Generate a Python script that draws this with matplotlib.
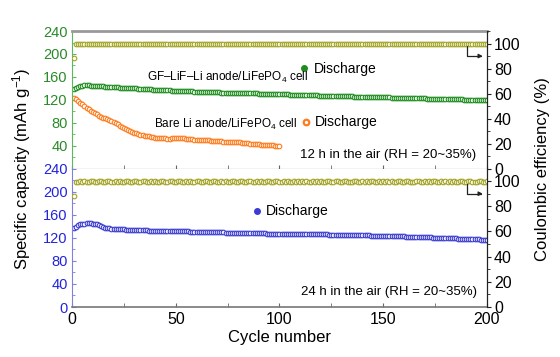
import numpy as np
import matplotlib
matplotlib.use('Agg')
from matplotlib import pyplot as plt
from matplotlib.ticker import MultipleLocator

plt.rcParams['font.family'] = ['Liberation Sans', 'DejaVu Sans']
plt.rcParams['mathtext.fontset'] = 'custom'
plt.rcParams['mathtext.rm'] = 'Liberation Sans'
plt.rcParams['mathtext.it'] = 'Liberation Sans:italic'
plt.rcParams['mathtext.default'] = 'regular'

cycles = np.arange(1, 201)
cycles_bare = np.arange(1, 101)

# 12 h in air: coulombic efficiency (%), GF-LiF-Li and bare Li discharge capacity
ce_12h = [88.5, 99.4, 99.7, 99.6, 99.8, 99.5, 99.7, 99.6, 99.9, 99.5, 99.7, 99.6, 99.8, 99.4, 99.7, 99.6, 99.8, 99.5, 99.7, 99.9,
          99.6, 99.5, 99.8, 99.7, 99.6, 99.4, 99.7, 99.8, 99.6, 99.5, 99.7, 99.6, 99.9, 99.5, 99.7, 99.6, 99.8, 99.4, 99.7, 99.6,
          99.8, 99.5, 99.7, 99.9, 99.6, 99.5, 99.8, 99.7, 99.6, 99.4, 99.7, 99.8, 99.6, 99.5, 99.7, 99.6, 99.9, 99.5, 99.7, 99.6,
          99.8, 99.4, 99.7, 99.6, 99.8, 99.5, 99.7, 99.9, 99.6, 99.5, 99.8, 99.7, 99.6, 99.4, 99.7, 99.8, 99.6, 99.5, 99.7, 99.6,
          99.9, 99.5, 99.7, 99.6, 99.8, 99.4, 99.7, 99.6, 99.8, 99.5, 99.7, 99.9, 99.6, 99.5, 99.8, 99.7, 99.6, 99.4, 99.7, 99.8,
          99.5, 99.7, 99.6, 99.8, 99.4, 99.7, 99.6, 99.9, 99.5, 99.6, 99.8, 99.7, 99.5, 99.6, 99.4, 99.7, 99.8, 99.6, 99.5, 99.7,
          99.6, 99.8, 99.5, 99.7, 99.9, 99.6, 99.4, 99.7, 99.6, 99.8, 99.5, 99.7, 99.6, 99.8, 99.4, 99.6, 99.7, 99.9, 99.5, 99.6,
          99.8, 99.7, 99.5, 99.6, 99.4, 99.7, 99.8, 99.6, 99.5, 99.7, 99.6, 99.8, 99.5, 99.7, 99.9, 99.6, 99.4, 99.7, 99.6, 99.8,
          99.5, 99.7, 99.6, 99.8, 99.4, 99.6, 99.7, 99.9, 99.5, 99.6, 99.8, 99.7, 99.5, 99.6, 99.4, 99.7, 99.8, 99.6, 99.5, 99.7,
          99.6, 99.8, 99.5, 99.7, 99.9, 99.6, 99.4, 99.7, 99.6, 99.8, 99.5, 99.7, 99.6, 99.8, 99.4, 99.6, 99.7, 99.9, 99.5, 99.6]
gf_12h = [138.5, 141.0, 143.0, 144.0, 144.6, 145.0, 145.0, 145.1, 144.8, 144.6, 144.2, 144.1, 143.9, 143.5, 143.2, 143.0, 142.8, 142.7, 142.5, 142.2,
          141.9, 141.7, 141.4, 141.2, 141.0, 140.8, 140.6, 140.3, 140.1, 139.9, 139.7, 139.3, 139.0, 138.9, 138.8, 138.5, 138.2, 138.1, 137.9, 137.6,
          137.4, 137.3, 137.2, 136.9, 136.6, 136.5, 136.3, 136.0, 135.8, 135.7, 135.6, 135.4, 135.2, 135.1, 135.0, 134.8, 134.6, 134.5, 134.4, 134.2,
          134.1, 134.0, 133.9, 133.7, 133.5, 133.5, 133.4, 133.2, 133.0, 133.0, 132.9, 132.7, 132.5, 132.4, 132.3, 132.3, 132.2, 132.0, 131.9, 131.9,
          131.8, 131.6, 131.5, 131.5, 131.4, 131.2, 131.1, 131.0, 131.0, 130.8, 130.7, 130.7, 130.6, 130.4, 130.2, 130.2, 130.1, 129.9, 129.8, 129.8,
          129.7, 129.5, 129.3, 129.3, 129.2, 129.0, 128.8, 128.8, 128.7, 128.5, 128.3, 128.3, 128.2, 128.0, 127.9, 127.9, 127.8, 127.6, 127.4, 127.4,
          127.3, 127.1, 127.0, 126.9, 126.8, 126.7, 126.6, 126.5, 126.4, 126.4, 126.3, 126.1, 126.0, 126.0, 125.9, 125.7, 125.6, 125.6, 125.5, 125.3,
          125.2, 125.2, 125.1, 124.9, 124.8, 124.7, 124.6, 124.5, 124.4, 124.3, 124.2, 124.1, 124.0, 123.9, 123.8, 123.7, 123.6, 123.5, 123.4, 123.3,
          123.2, 123.1, 123.0, 122.9, 122.8, 122.7, 122.6, 122.5, 122.4, 122.3, 122.2, 122.1, 122.0, 121.9, 121.8, 121.7, 121.6, 121.5, 121.4, 121.3,
          121.2, 121.1, 121.0, 120.9, 120.8, 120.7, 120.6, 120.5, 120.4, 120.3, 120.2, 120.1, 120.0, 119.8, 119.7, 119.6, 119.5, 119.3, 119.2, 119.0]
bare_12h = [122.5, 120.5, 118.0, 115.0, 112.0, 109.0, 106.0, 103.5, 101.0, 99.0, 97.0, 94.5, 92.0, 90.0, 88.0, 87.5, 86.0, 84.5, 83.0, 81.0,
            79.0, 77.0, 75.0, 73.0, 71.0, 69.0, 67.0, 65.5, 64.0, 62.5, 61.5, 60.0, 59.0, 58.0, 57.5, 56.5, 56.0, 55.0, 54.5, 54.0,
            53.5, 53.0, 53.0, 52.5, 52.5, 52.0, 52.0, 52.5, 53.0, 53.5, 53.5, 53.5, 53.0, 52.5, 52.0, 51.5, 51.0, 51.0, 50.5, 50.5,
            50.0, 50.0, 49.5, 49.5, 49.0, 49.0, 48.5, 48.5, 48.5, 48.0, 48.0, 47.5, 47.0, 47.0, 46.5, 46.5, 46.5, 46.5, 46.0, 46.0,
            45.5, 45.0, 44.5, 44.5, 44.0, 43.5, 43.0, 42.5, 42.0, 42.0, 41.5, 41.0, 41.0, 40.5, 40.5, 40.5, 40.5, 40.0, 40.0, 40.0]

# 24 h in air
ce_24h = [88.0, 99.5, 99.6, 99.8, 99.4, 99.7, 99.6, 99.5, 99.8, 99.7, 99.6, 99.4, 99.7, 99.8, 99.5, 99.6, 99.7, 99.9, 99.5, 99.6,
          99.8, 99.4, 99.7, 99.6, 99.5, 99.8, 99.7, 99.6, 99.4, 99.7, 99.8, 99.5, 99.6, 99.7, 99.9, 99.5, 99.6, 99.8, 99.4, 99.7,
          99.6, 99.5, 99.8, 99.7, 99.6, 99.4, 99.7, 99.8, 99.5, 99.6, 99.7, 99.9, 99.5, 99.6, 99.8, 99.4, 99.7, 99.6, 99.5, 99.8,
          99.7, 99.6, 99.4, 99.7, 99.8, 99.5, 99.6, 99.7, 99.9, 99.5, 99.6, 99.8, 99.4, 99.7, 99.6, 99.5, 99.8, 99.7, 99.6, 99.4,
          99.7, 99.8, 99.5, 99.6, 99.7, 99.9, 99.5, 99.6, 99.8, 99.4, 99.7, 99.6, 99.5, 99.8, 99.7, 99.6, 99.4, 99.7, 99.8, 99.5,
          99.6, 99.7, 99.5, 99.8, 99.6, 99.4, 99.7, 99.6, 99.9, 99.5, 99.7, 99.6, 99.8, 99.5, 99.4, 99.7, 99.6, 99.8, 99.5, 99.7,
          99.6, 99.5, 99.8, 99.7, 99.4, 99.6, 99.7, 99.9, 99.5, 99.6, 99.8, 99.7, 99.5, 99.4, 99.6, 99.7, 99.8, 99.6, 99.5, 99.7,
          99.6, 99.8, 99.5, 99.7, 99.9, 99.6, 99.4, 99.7, 99.6, 99.8, 99.5, 99.7, 99.6, 99.8, 99.4, 99.6, 99.7, 99.9, 99.5, 99.6,
          99.8, 99.7, 99.5, 99.6, 99.4, 99.7, 99.8, 99.6, 99.5, 99.7, 99.6, 99.8, 99.5, 99.7, 99.9, 99.6, 99.4, 99.7, 99.6, 99.8,
          99.5, 99.7, 99.6, 99.8, 99.4, 99.6, 99.7, 99.9, 99.5, 99.6, 99.8, 99.7, 99.5, 99.6, 99.4, 99.7, 99.8, 99.6, 99.5, 99.7]
gf_24h = [137.0, 139.5, 141.5, 143.0, 144.0, 144.5, 145.0, 145.0, 145.0, 144.5, 144.0, 143.0, 141.5, 140.0, 138.5, 137.5, 137.0, 136.5, 136.0, 135.8,
          135.5, 135.2, 135.0, 134.8, 134.5, 134.2, 134.0, 133.9, 133.8, 133.6, 133.5, 133.2, 133.0, 132.9, 132.8, 132.6, 132.5, 132.4, 132.3, 132.1,
          132.0, 132.0, 132.0, 131.9, 131.8, 131.7, 131.6, 131.5, 131.5, 131.4, 131.3, 131.2, 131.2, 131.1, 131.0, 130.9, 130.8, 130.7, 130.6, 130.5,
          130.4, 130.3, 130.2, 130.1, 130.0, 129.9, 129.8, 129.7, 129.6, 129.5, 129.4, 129.3, 129.2, 129.1, 129.0, 128.9, 128.8, 128.7, 128.6, 128.5,
          128.4, 128.3, 128.2, 128.1, 128.0, 127.9, 127.8, 127.7, 127.6, 127.5, 127.5, 127.4, 127.4, 127.3, 127.3, 127.2, 127.2, 127.1, 127.1, 127.0,
          127.0, 126.9, 126.9, 126.8, 126.8, 126.7, 126.7, 126.6, 126.6, 126.5, 126.5, 126.4, 126.4, 126.3, 126.3, 126.2, 126.2, 126.1, 126.0, 126.0,
          125.9, 125.8, 125.7, 125.6, 125.6, 125.5, 125.4, 125.3, 125.3, 125.1, 125.1, 125.0, 125.0, 124.8, 124.8, 124.6, 124.6, 124.4, 124.4, 124.2,
          124.2, 124.0, 124.0, 123.8, 123.8, 123.6, 123.6, 123.4, 123.4, 123.2, 123.2, 123.0, 123.0, 122.8, 122.8, 122.6, 122.5, 122.4, 122.3, 122.2,
          122.0, 121.9, 121.8, 121.6, 121.5, 121.4, 121.3, 121.1, 121.0, 120.9, 120.8, 120.6, 120.5, 120.3, 120.2, 120.1, 120.0, 119.8, 119.7, 119.5,
          119.4, 119.2, 119.1, 118.9, 118.8, 118.6, 118.5, 118.3, 118.2, 118.0, 117.9, 117.7, 117.5, 117.4, 117.2, 117.0, 116.8, 116.6, 116.4, 116.2]

c_ce = '#a3a324'
c_green = '#1f8c1f'
c_orange = '#ff7b1c'
c_blue = '#3c3cd2'
mk = dict(marker='o', ls='none', ms=3.3, mew=0.8, mfc='white')

fig = plt.figure(figsize=(5.6, 3.57), dpi=100)
ax1 = fig.add_axes([0.1286, 0.528, 0.741, 0.385])
ax2 = fig.add_axes([0.1286, 0.140, 0.741, 0.388], sharex=ax1)
ax1r = ax1.twinx()
ax2r = ax2.twinx()

# top panel
ax1.plot(cycles, gf_12h, color=c_green, **mk)
ax1.plot(cycles_bare, bare_12h, color=c_orange, **mk)
ax1r.plot(cycles, ce_12h, color=c_ce, **mk)

# bottom panel
ax2.plot(cycles, gf_24h, color=c_blue, **mk)
ax2r.plot(cycles, ce_24h, color=c_ce, **mk)

ax1.set_xlim(0, 200)
for ax, col, scol in [(ax1, '#2a8a2a', '#5cb85c'), (ax2, '#2323dd', '#8080e0')]:
    ax.set_ylim(0, 240)
    ax.yaxis.set_major_locator(MultipleLocator(40))
    ax.yaxis.set_minor_locator(MultipleLocator(20))
    ax.xaxis.set_major_locator(MultipleLocator(50))
    ax.xaxis.set_minor_locator(MultipleLocator(25))
    ax.tick_params(axis='y', which='both', direction='in', colors=scol,
                   labelcolor=col, labelsize=10.5, length=3, pad=3)
    ax.tick_params(axis='y', which='minor', length=2)
    ax.tick_params(axis='x', which='both', direction='in', length=3,
                   labelsize=11.5, color='#666666')
    ax.spines['left'].set_color(scol)
for axr in (ax1r, ax2r):
    axr.set_ylim(0, 110)
    axr.yaxis.set_major_locator(MultipleLocator(20))
    axr.yaxis.set_minor_locator(MultipleLocator(10))
    axr.tick_params(axis='y', which='both', direction='out', length=3,
                    labelsize=11.5, color='#222222', pad=2)
    axr.tick_params(axis='y', which='minor', length=2)
    axr.spines['right'].set_color('#222222')
    axr.spines['left'].set_visible(False)
    axr.spines['top'].set_visible(False)
    axr.spines['bottom'].set_visible(False)

ax1.set_yticks([40, 80, 120, 160, 200, 240])
ax1r.set_yticks([0, 20, 40, 60, 80, 100])
ax2r.set_yticks([0, 20, 40, 60, 80, 100])
ax1.tick_params(axis='x', labelbottom=False)
ax1.spines['top'].set_color('#999999')
ax1.spines['top'].set_linewidth(2)
ax1.spines['bottom'].set_color('#333333')
ax2.spines['top'].set_visible(False)
ax2.spines['bottom'].set_color('#777777')
ax2.spines['bottom'].set_linewidth(1.2)

ax2.set_xlabel('Cycle number', fontsize=12, labelpad=2)
fig.text(0.038, 0.527, 'Specific capacity (mAh g$^{-1}$)', rotation=90,
         ha='center', va='center', fontsize=12)
fig.text(0.968, 0.527, 'Coulombic efficiency (%)', rotation=90,
         ha='center', va='center', fontsize=12)

# labels inside the panels
ax1.text(36, 159, 'GF\u2013LiF\u2013Li anode/LiFePO$_4$ cell', fontsize=8.5,
         ha='left', va='center')
ax1.plot([112], [175], color=c_green, marker='o', ms=4, ls='none')
ax1.text(116.5, 173, 'Discharge', fontsize=10, ha='left', va='center')
ax1.text(39.5, 77, 'Bare Li anode/LiFePO$_4$ cell', fontsize=8.5,
         ha='left', va='center')
ax1.plot([112.8], [82], color=c_orange, marker='o', ms=4, mfc='white',
         mew=1.6, ls='none')
ax1.text(117, 82, 'Discharge', fontsize=10, ha='left', va='center')
ax1.text(195, 23, '12 h in the air (RH = 20~35%)', fontsize=9.5,
         ha='right', va='center')

ax2.plot([89], [166], color=c_blue, marker='o', ms=4, ls='none')
ax2.text(93.5, 166, 'Discharge', fontsize=10, ha='left', va='center')
ax2.text(195, 26, '24 h in the air (RH = 20~35%)', fontsize=9.5,
         ha='right', va='center')

for axr in (ax1r, ax2r):
    axr.annotate('', xy=(198, 90), xytext=(190.5, 98),
                 arrowprops=dict(arrowstyle='-|>', color='#222222', lw=0.9,
                                 mutation_scale=6,
                                 connectionstyle='angle,angleA=90,angleB=0,rad=0',
                                 shrinkA=0, shrinkB=0))

fig.savefig('out.png', dpi=100)
plt.close()
